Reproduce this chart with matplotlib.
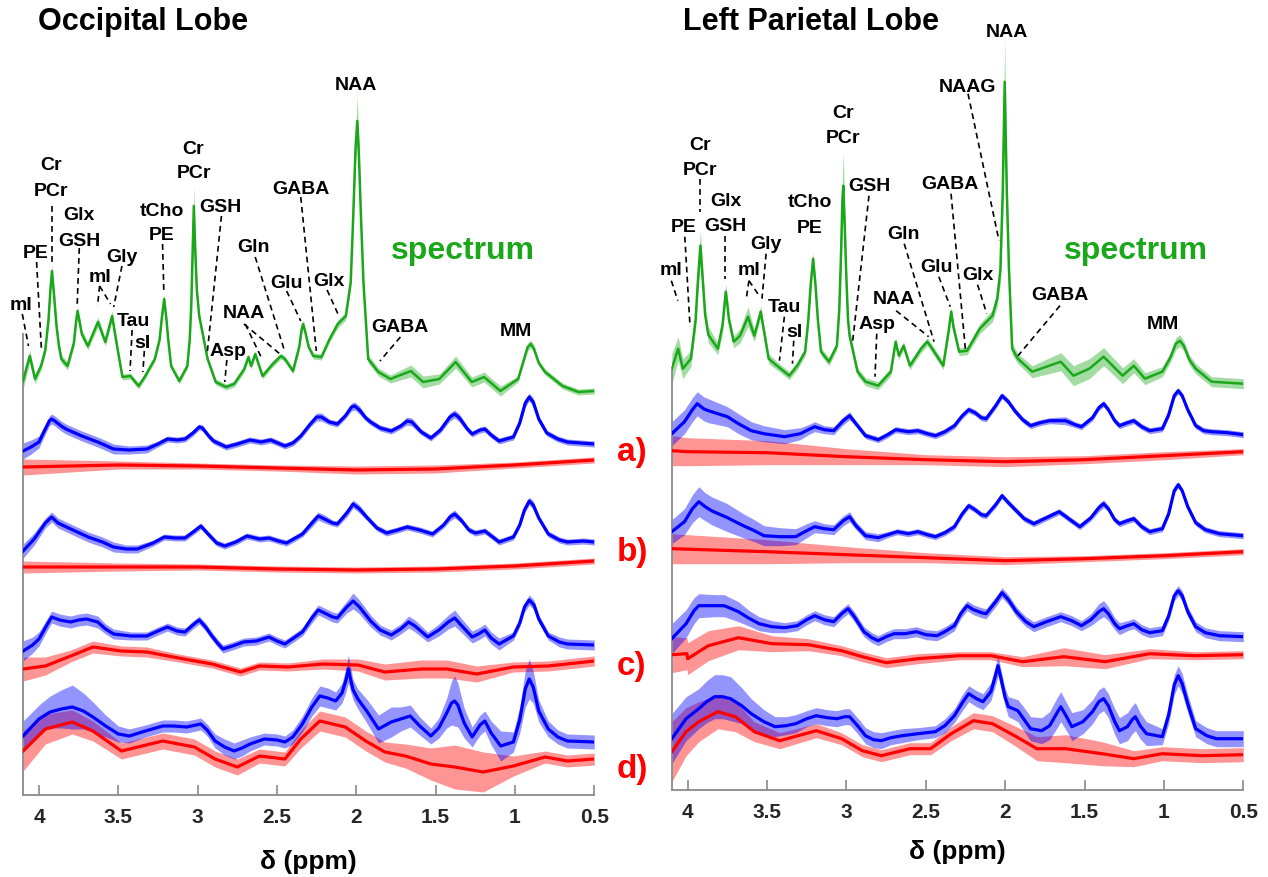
import matplotlib
matplotlib.use("Agg")
import matplotlib.pyplot as plt

plt.rcParams['font.family'] = ['Liberation Sans', 'DejaVu Sans']
plt.rcParams['font.weight'] = 'bold'

# ---------------- data: (ppm, intensity, sd) ----------------
occ_spectrum = [
    (4.10, 414, 8), (4.058, 439, 6), (4.025, 416, 5), (3.987, 429, 4), (3.96, 445, 4),
    (3.94, 475, 5), (3.928, 505, 6), (3.918, 524, 7), (3.905, 500, 6), (3.89, 470, 5),
    (3.875, 450, 4), (3.859, 436, 4), (3.82, 429, 4), (3.78, 452, 4), (3.765, 475, 5),
    (3.757, 484, 5), (3.745, 474, 5), (3.73, 461, 4), (3.692, 449, 4), (3.628, 473, 5),
    (3.582, 453, 4), (3.539, 479, 5), (3.51, 451, 4), (3.474, 418, 3), (3.424, 419, 3),
    (3.372, 409, 3), (3.334, 418, 3), (3.27, 436, 3), (3.24, 455, 3), (3.225, 478, 4),
    (3.211, 496, 5), (3.198, 478, 4), (3.185, 455, 3), (3.167, 429, 3), (3.116, 414, 3),
    (3.065, 429, 3), (3.05, 455, 4), (3.04, 490, 6), (3.032, 540, 12), (3.024, 589, 20),
    (3.015, 545, 12), (3.005, 505, 6), (2.99, 479, 4), (2.937, 436, 3), (2.886, 413, 3),
    (2.821, 408, 3), (2.77, 411, 3), (2.706, 426, 3), (2.68, 438, 3), (2.663, 429, 3),
    (2.637, 441, 3), (2.591, 419, 3), (2.527, 431, 3), (2.475, 439, 3), (2.45, 436, 3),
    (2.399, 424, 3), (2.36, 448, 4), (2.345, 465, 4), (2.335, 471, 4), (2.32, 462, 4),
    (2.30, 448, 3), (2.271, 439, 3), (2.22, 438, 3), (2.168, 456, 3), (2.117, 471, 4),
    (2.066, 479, 4), (2.035, 513, 5), (2.02, 576, 8), (2.005, 646, 15), (1.994, 674, 25),
    (1.985, 646, 15), (1.97, 576, 8), (1.955, 513, 5), (1.925, 436, 4), (1.861, 423, 4),
    (1.785, 416, 4), (1.656, 424, 6), (1.579, 413, 6), (1.477, 416, 5), (1.374, 433, 6),
    (1.272, 413, 5), (1.195, 418, 5), (1.092, 404, 5), (0.98, 416, 3), (0.95, 432, 3),
    (0.92, 448, 4), (0.90, 451, 4), (0.88, 446, 4), (0.85, 432, 3), (0.81, 423, 3),
    (0.70, 409, 3), (0.60, 403, 3), (0.50, 404, 3),
]
occ_a_model = [
    (4.10, 344, 8), (4.05, 348, 7), (4.00, 353, 6), (3.96, 366, 5), (3.935, 374, 5),
    (3.92, 376, 5), (3.90, 374, 5), (3.86, 369, 5), (3.83, 366, 5), (3.73, 359, 5),
    (3.63, 353, 5), (3.53, 346, 5), (3.43, 345, 4), (3.32, 346, 4), (3.25, 351, 3),
    (3.19, 356, 3), (3.13, 355, 3), (3.08, 356, 3), (3.03, 362, 3), (2.99, 368, 3),
    (2.97, 367, 3), (2.93, 359, 3), (2.90, 354, 3), (2.82, 348, 3), (2.75, 351, 3),
    (2.67, 355, 3), (2.60, 353, 3), (2.54, 355, 3), (2.45, 349, 3), (2.40, 352, 3),
    (2.35, 359, 3), (2.29, 371, 3), (2.25, 378, 4), (2.22, 378, 4), (2.17, 373, 3),
    (2.12, 371, 3), (2.07, 379, 3), (2.03, 388, 4), (2.01, 389, 4), (1.98, 385, 4),
    (1.94, 377, 3), (1.91, 373, 3), (1.85, 367, 3), (1.78, 364, 3), (1.72, 369, 3),
    (1.68, 374, 4), (1.65, 373, 4), (1.59, 363, 3), (1.53, 357, 3), (1.47, 365, 3),
    (1.41, 378, 4), (1.38, 381, 4), (1.35, 377, 4), (1.30, 366, 3), (1.27, 361, 3),
    (1.22, 365, 3), (1.19, 366, 3), (1.15, 360, 3), (1.10, 354, 3), (1.01, 358, 3),
    (0.97, 372, 3), (0.935, 392, 4), (0.91, 398, 4), (0.885, 393, 4), (0.85, 376, 3),
    (0.80, 362, 3), (0.73, 356, 3), (0.67, 353, 3), (0.50, 351, 3),
]
occ_a_baseline = [
    (4.10, 328, 8), (3.50, 330, 4), (3.00, 329, 3), (2.50, 327, 3), (2.00, 325, 4),
    (1.50, 326, 4), (1.00, 330, 3), (0.50, 335, 3),
]
occ_b_model = [
    (4.10, 244, 7), (4.03, 256, 6), (3.96, 272, 5), (3.92, 278, 5), (3.88, 272, 5),
    (3.80, 266, 5), (3.69, 258, 5), (3.60, 253, 5), (3.53, 248, 5), (3.45, 246, 4),
    (3.38, 246, 4), (3.28, 252, 3), (3.21, 258, 3), (3.14, 257, 3), (3.08, 257, 3),
    (3.02, 264, 3), (2.98, 269, 3), (2.94, 262, 3), (2.88, 252, 3), (2.83, 249, 3),
    (2.76, 253, 3), (2.69, 259, 3), (2.61, 256, 3), (2.55, 257, 3), (2.49, 254, 3),
    (2.44, 252, 3), (2.34, 261, 3), (2.28, 272, 4), (2.24, 279, 4), (2.20, 276, 4),
    (2.15, 272, 3), (2.12, 271, 3), (2.06, 282, 4), (2.02, 291, 4), (1.98, 286, 4),
    (1.93, 277, 3), (1.87, 267, 3), (1.81, 262, 3), (1.74, 265, 3), (1.68, 268, 3),
    (1.60, 265, 3), (1.52, 261, 3), (1.45, 270, 3), (1.41, 278, 4), (1.38, 281, 4),
    (1.34, 275, 3), (1.29, 265, 3), (1.25, 262, 3), (1.19, 264, 3), (1.14, 258, 3),
    (1.10, 253, 3), (1.01, 258, 3), (0.97, 270, 3), (0.94, 285, 3), (0.91, 294, 4),
    (0.885, 290, 4), (0.85, 277, 3), (0.79, 261, 3), (0.72, 255, 3), (0.67, 253, 3),
    (0.57, 254, 3), (0.50, 253, 3),
]
occ_b_baseline = [
    (4.10, 228, 6), (3.50, 228, 4), (3.00, 228, 3), (2.50, 226, 3), (2.00, 225, 3),
    (1.50, 226, 3), (1.00, 229, 3), (0.50, 234, 3),
]
occ_c_model = [
    (4.10, 144, 10), (4.04, 150, 8), (4.00, 156, 7), (3.95, 170, 6), (3.92, 178, 6),
    (3.87, 175, 6), (3.80, 173, 6), (3.75, 175, 6), (3.70, 176, 6), (3.63, 173, 6),
    (3.58, 166, 5), (3.53, 161, 5), (3.42, 159, 4), (3.32, 159, 4), (3.25, 164, 4),
    (3.19, 168, 4), (3.13, 164, 4), (3.08, 163, 4), (3.03, 170, 4), (2.99, 175, 4),
    (2.95, 168, 4), (2.91, 159, 4), (2.87, 151, 4), (2.84, 146, 4), (2.78, 149, 4),
    (2.71, 153, 4), (2.63, 154, 4), (2.55, 158, 4), (2.50, 154, 4), (2.45, 151, 4),
    (2.34, 163, 4), (2.28, 177, 5), (2.24, 185, 5), (2.20, 182, 5), (2.15, 178, 5),
    (2.12, 177, 5), (2.06, 188, 6), (2.02, 194, 8), (1.98, 188, 7), (1.91, 174, 6),
    (1.85, 165, 5), (1.78, 160, 5), (1.72, 166, 5), (1.67, 173, 6), (1.63, 169, 6),
    (1.55, 158, 5), (1.48, 165, 6), (1.42, 173, 7), (1.38, 177, 8), (1.34, 170, 7),
    (1.27, 158, 6), (1.23, 161, 6), (1.19, 165, 6), (1.15, 157, 6), (1.10, 151, 6),
    (1.01, 159, 4), (0.97, 172, 4), (0.94, 188, 5), (0.91, 195, 5), (0.88, 190, 5),
    (0.85, 176, 4), (0.79, 159, 4), (0.72, 153, 5), (0.67, 151, 5), (0.50, 150, 5),
]
occ_c_baseline = [
    (4.10, 126, 12), (3.96, 129, 9), (3.80, 139, 6), (3.66, 148, 6), (3.48, 144, 5),
    (3.32, 143, 5), (3.12, 137, 4), (2.91, 131, 4), (2.73, 123, 4), (2.61, 129, 4),
    (2.43, 128, 4), (2.21, 131, 5), (1.99, 130, 6), (1.82, 123, 8), (1.59, 126, 9),
    (1.43, 126, 9), (1.24, 121, 8), (1.01, 128, 5), (0.79, 129, 5), (0.50, 134, 5),
]
occ_d_model = [
    (4.10, 59, 15), (4.00, 76, 14), (3.93, 83, 16), (3.86, 86, 19), (3.79, 88, 22),
    (3.72, 84, 18), (3.66, 78, 15), (3.58, 69, 11), (3.50, 61, 8), (3.43, 59, 7),
    (3.33, 64, 6), (3.22, 69, 6), (3.15, 69, 6), (3.07, 68, 6), (2.98, 71, 6),
    (2.94, 65, 6), (2.89, 54, 7), (2.83, 48, 8), (2.77, 44, 8), (2.72, 47, 8),
    (2.67, 51, 7), (2.58, 56, 6), (2.50, 55, 6), (2.45, 53, 6), (2.40, 58, 7),
    (2.34, 71, 8), (2.28, 88, 9), (2.23, 99, 10), (2.18, 97, 10), (2.13, 94, 9),
    (2.09, 102, 10), (2.065, 115, 12), (2.05, 126, 14), (2.035, 115, 12), (2.02, 105, 10),
    (1.99, 96, 10), (1.93, 83, 12), (1.86, 66, 14), (1.78, 73, 15), (1.72, 76, 12),
    (1.66, 79, 11), (1.60, 69, 9), (1.53, 59, 8), (1.48, 67, 10), (1.43, 82, 15),
    (1.40, 92, 22), (1.38, 94, 25), (1.36, 90, 22), (1.32, 72, 15), (1.27, 58, 10),
    (1.22, 70, 10), (1.19, 74, 10), (1.15, 62, 12), (1.09, 49, 15), (1.01, 53, 10),
    (0.97, 75, 13), (0.935, 106, 18), (0.91, 116, 20), (0.885, 108, 16), (0.85, 84, 11),
    (0.79, 66, 8), (0.73, 58, 7), (0.67, 54, 7), (0.50, 53, 7),
]
occ_d_baseline = [
    (4.10, 44, 20), (3.96, 66, 15), (3.79, 73, 12), (3.66, 64, 10), (3.48, 44, 8),
    (3.22, 54, 8), (3.02, 48, 8), (2.89, 36, 8), (2.75, 28, 8), (2.61, 39, 7),
    (2.45, 36, 7), (2.35, 56, 9), (2.23, 74, 10), (2.07, 68, 10), (1.94, 54, 10),
    (1.82, 43, 10), (1.69, 39, 12), (1.53, 31, 16), (1.38, 28, 22), (1.20, 23, 20),
    (1.01, 29, 10), (0.81, 38, 6), (0.67, 34, 6), (0.50, 36, 6),
]

par_spectrum = [
    (4.10, 421, 15), (4.06, 441, 12), (4.03, 421, 10), (3.98, 431, 8), (3.95, 470, 10),
    (3.935, 510, 12), (3.92, 544, 15), (3.905, 510, 12), (3.89, 475, 9), (3.87, 455, 8),
    (3.81, 441, 6), (3.78, 465, 8), (3.768, 485, 8), (3.76, 498, 8), (3.75, 485, 7),
    (3.74, 470, 6), (3.71, 448, 6), (3.67, 454, 7), (3.62, 473, 10), (3.58, 454, 6),
    (3.54, 478, 6), (3.49, 431, 5), (3.43, 423, 4), (3.36, 414, 4), (3.31, 424, 4),
    (3.26, 438, 4), (3.24, 470, 5), (3.225, 505, 6), (3.21, 531, 6), (3.195, 505, 6),
    (3.18, 470, 5), (3.16, 438, 4), (3.11, 428, 4), (3.06, 444, 4), (3.045, 480, 6),
    (3.035, 530, 12), (3.025, 590, 28), (3.02, 604, 33), (3.012, 570, 20), (3.00, 510, 10),
    (2.99, 470, 5), (2.98, 454, 5), (2.93, 418, 4), (2.88, 408, 4), (2.80, 404, 4),
    (2.72, 418, 4), (2.69, 448, 4), (2.67, 434, 4), (2.64, 444, 4), (2.60, 424, 4),
    (2.53, 441, 4), (2.49, 448, 4), (2.46, 441, 4), (2.39, 424, 4), (2.355, 460, 5),
    (2.34, 478, 5), (2.325, 462, 5), (2.29, 438, 4), (2.24, 439, 4), (2.16, 461, 5),
    (2.08, 474, 6), (2.05, 491, 8), (2.03, 520, 12), (2.015, 600, 25), (2.003, 708, 43),
    (1.99, 600, 25), (1.976, 520, 12), (1.956, 441, 6), (1.92, 431, 5), (1.83, 418, 6),
    (1.65, 428, 9), (1.57, 414, 10), (1.47, 421, 10), (1.38, 433, 9), (1.26, 414, 8),
    (1.19, 424, 7), (1.12, 411, 6), (1.01, 418, 5), (0.96, 432, 5), (0.925, 446, 6),
    (0.90, 449, 6), (0.875, 444, 5), (0.84, 430, 5), (0.80, 421, 5), (0.70, 408, 5),
    (0.50, 406, 5),
]
par_a_model = [
    (4.10, 356, 12), (4.02, 368, 12), (3.97, 380, 12), (3.94, 386, 12), (3.90, 381, 12),
    (3.87, 379, 12), (3.81, 376, 11), (3.75, 373, 10), (3.68, 366, 10), (3.60, 359, 9),
    (3.52, 356, 8), (3.39, 353, 7), (3.29, 356, 6), (3.24, 360, 5), (3.20, 363, 5),
    (3.14, 360, 4), (3.08, 359, 4), (3.02, 369, 4), (2.98, 374, 4), (2.94, 366, 3),
    (2.88, 354, 3), (2.80, 350, 3), (2.74, 355, 3), (2.69, 360, 3), (2.61, 358, 3),
    (2.55, 359, 3), (2.49, 356, 3), (2.44, 354, 3), (2.38, 358, 3), (2.32, 364, 3),
    (2.27, 374, 3), (2.23, 380, 3), (2.19, 377, 3), (2.15, 372, 3), (2.12, 371, 3),
    (2.06, 384, 3), (2.02, 394, 3), (1.98, 388, 3), (1.94, 379, 3), (1.89, 370, 3),
    (1.84, 364, 3), (1.78, 367, 3), (1.72, 369, 3), (1.62, 369, 4), (1.56, 365, 3),
    (1.52, 363, 3), (1.45, 372, 3), (1.41, 382, 3), (1.38, 386, 3), (1.35, 380, 3),
    (1.31, 369, 3), (1.28, 364, 3), (1.23, 367, 3), (1.19, 369, 3), (1.14, 363, 3),
    (1.09, 359, 3), (1.01, 361, 3), (0.97, 375, 3), (0.935, 394, 3), (0.91, 399, 3),
    (0.885, 394, 3), (0.85, 380, 3), (0.80, 364, 3), (0.75, 359, 3), (0.70, 358, 3),
    (0.60, 357, 3), (0.50, 355, 3),
]
par_a_baseline = [
    (4.10, 339, 15), (4.00, 338, 14), (3.50, 337, 12), (3.00, 333, 8), (2.50, 330, 5),
    (2.00, 328, 5), (1.50, 330, 4), (1.00, 334, 4), (0.50, 338, 3),
]
par_b_model = [
    (4.10, 258, 12), (4.02, 268, 13), (3.97, 281, 14), (3.93, 288, 15), (3.89, 283, 14),
    (3.85, 279, 14), (3.75, 272, 14), (3.65, 264, 12), (3.58, 259, 11), (3.52, 254, 10),
    (3.42, 253, 9), (3.32, 253, 8), (3.25, 259, 7), (3.20, 263, 6), (3.14, 261, 5),
    (3.08, 260, 5), (3.02, 269, 5), (2.98, 273, 5), (2.94, 264, 4), (2.88, 254, 4),
    (2.80, 252, 4), (2.74, 255, 3), (2.68, 258, 3), (2.61, 256, 3), (2.55, 258, 3),
    (2.49, 255, 3), (2.44, 253, 3), (2.38, 257, 3), (2.32, 263, 3), (2.27, 276, 3),
    (2.23, 284, 3), (2.19, 280, 3), (2.15, 275, 3), (2.12, 274, 3), (2.06, 285, 3),
    (2.02, 294, 3), (1.98, 287, 3), (1.93, 279, 3), (1.88, 271, 3), (1.82, 266, 3),
    (1.74, 272, 3), (1.66, 278, 3), (1.60, 271, 3), (1.53, 263, 3), (1.46, 272, 3),
    (1.41, 282, 4), (1.38, 286, 4), (1.35, 281, 3), (1.31, 270, 3), (1.28, 266, 3),
    (1.23, 269, 3), (1.19, 271, 3), (1.14, 263, 3), (1.09, 258, 3), (1.01, 261, 3),
    (0.97, 276, 3), (0.935, 299, 3), (0.91, 305, 3), (0.885, 299, 3), (0.85, 283, 3),
    (0.80, 267, 3), (0.74, 260, 3), (0.65, 256, 3), (0.50, 254, 3),
]
par_b_baseline = [
    (4.10, 241, 15), (3.50, 238, 12), (3.00, 235, 8), (2.50, 232, 5), (2.00, 229, 4),
    (1.50, 231, 3), (1.00, 234, 3), (0.50, 238, 3),
]
par_c_model = [
    (4.10, 151, 15), (4.01, 166, 14), (3.96, 179, 13), (3.93, 184, 12), (3.83, 184, 11),
    (3.77, 184, 11), (3.68, 178, 10), (3.62, 172, 8), (3.55, 166, 7), (3.47, 163, 6),
    (3.39, 162, 5), (3.31, 164, 5), (3.25, 170, 5), (3.20, 174, 5), (3.14, 170, 5),
    (3.08, 168, 5), (3.03, 176, 5), (2.99, 181, 5), (2.95, 173, 5), (2.89, 158, 5),
    (2.84, 152, 5), (2.80, 149, 5), (2.75, 153, 5), (2.70, 156, 5), (2.63, 156, 5),
    (2.56, 158, 5), (2.50, 155, 5), (2.43, 154, 5), (2.38, 158, 5), (2.32, 164, 5),
    (2.28, 176, 5), (2.24, 184, 5), (2.20, 180, 5), (2.15, 177, 5), (2.12, 176, 5),
    (2.06, 188, 5), (2.02, 197, 5), (1.98, 190, 5), (1.93, 178, 5), (1.87, 168, 5),
    (1.82, 163, 5), (1.74, 168, 5), (1.65, 173, 5), (1.58, 169, 5), (1.52, 164, 5),
    (1.46, 170, 6), (1.41, 178, 8), (1.38, 181, 8), (1.35, 176, 7), (1.31, 166, 6),
    (1.28, 161, 6), (1.23, 164, 5), (1.19, 166, 5), (1.14, 160, 5), (1.09, 157, 5),
    (1.01, 159, 5), (0.97, 174, 5), (0.935, 194, 5), (0.91, 199, 5), (0.885, 194, 5),
    (0.85, 178, 5), (0.80, 163, 5), (0.74, 157, 5), (0.65, 154, 5), (0.50, 153, 5),
]
par_c_baseline = [
    (4.10, 135, 18), (4.005, 136, 16), (4.00, 131, 16), (3.87, 144, 15), (3.68, 152, 12),
    (3.47, 146, 8), (3.24, 145, 6), (3.03, 139, 5), (2.90, 133, 5), (2.75, 127, 5),
    (2.55, 131, 5), (2.29, 134, 4), (2.09, 134, 4), (1.89, 128, 5), (1.63, 133, 9),
    (1.37, 128, 7), (1.09, 136, 5), (0.81, 134, 4), (0.50, 135, 4),
]
par_d_model = [
    (4.10, 51, 25), (4.01, 71, 22), (3.93, 81, 20), (3.88, 88, 21), (3.83, 93, 22),
    (3.78, 93, 22), (3.73, 91, 22), (3.66, 84, 18), (3.60, 76, 15), (3.52, 68, 12),
    (3.45, 63, 10), (3.38, 64, 9), (3.32, 66, 9), (3.25, 71, 8), (3.19, 74, 8),
    (3.12, 72, 8), (3.06, 71, 8), (3.01, 73, 8), (2.98, 73, 8), (2.93, 64, 8),
    (2.88, 54, 8), (2.83, 50, 8), (2.78, 49, 8), (2.72, 52, 7), (2.65, 54, 7),
    (2.55, 56, 6), (2.44, 58, 6), (2.38, 64, 7), (2.32, 74, 7), (2.27, 87, 8),
    (2.23, 96, 8), (2.18, 91, 8), (2.14, 88, 8), (2.09, 98, 9), (2.065, 112, 10),
    (2.045, 124, 10), (2.025, 110, 9), (2.00, 92, 9), (1.98, 83, 10), (1.92, 79, 11),
    (1.88, 70, 12), (1.84, 61, 12), (1.77, 59, 13), (1.72, 64, 14), (1.68, 75, 15),
    (1.65, 83, 15), (1.61, 72, 14), (1.58, 63, 14), (1.51, 68, 12), (1.45, 78, 12),
    (1.41, 88, 12), (1.38, 91, 12), (1.35, 84, 12), (1.31, 68, 13), (1.28, 59, 13),
    (1.23, 63, 14), (1.20, 70, 14), (1.18, 73, 14), (1.15, 64, 13), (1.11, 56, 12),
    (1.01, 53, 8), (0.97, 75, 9), (0.935, 105, 10), (0.91, 114, 10), (0.885, 106, 10),
    (0.85, 86, 9), (0.80, 61, 8), (0.73, 54, 8), (0.67, 51, 8), (0.50, 51, 8),
]
par_d_baseline = [
    (4.10, 38, 30), (4.01, 58, 24), (3.93, 68, 20), (3.81, 78, 17), (3.70, 73, 15),
    (3.58, 58, 10), (3.42, 49, 8), (3.19, 59, 7), (3.03, 51, 6), (2.90, 39, 6),
    (2.78, 34, 6), (2.60, 41, 6), (2.47, 41, 6), (2.34, 56, 7), (2.20, 69, 8),
    (2.08, 66, 8), (1.93, 53, 10), (1.80, 41, 12), (1.62, 41, 14), (1.39, 36, 12),
    (1.19, 31, 8), (1.01, 36, 7), (0.76, 34, 7), (0.50, 35, 7),
]

# labels: (text, ppm, height)
occ_labels = [
    ("NAA", 2.002, 710), ("Cr", 3.926, 630), ("PCr", 3.926, 605), ("PE", 4.020, 543),
    ("Glx", 3.746, 580), ("GSH", 3.746, 555), ("Gly", 3.477, 538), ("mI", 3.618, 518),
    ("mI", 4.113, 490), ("Tau", 3.406, 474), ("sI", 3.345, 453), ("tCho", 3.226, 585),
    ("PE", 3.226, 560), ("Cr", 3.026, 647), ("PCr", 3.026, 623), ("GSH", 2.857, 589),
    ("Gln", 2.645, 548), ("Glu", 2.439, 513), ("GABA", 2.350, 607), ("Glx", 2.170, 514),
    ("NAA", 2.708, 482), ("Asp", 2.811, 445), ("GABA", 1.727, 468), ("MM", 0.997, 464),
]
# leader lines: (ppm_from, h_from, ppm_to, h_to)
occ_leaders = [
    (4.105, 481, 4.066, 449), (4.015, 533, 3.984, 444), (3.921, 589, 3.921, 533),
    (3.746, 547, 3.759, 491), (3.618, 509, 3.631, 489), (3.618, 509, 3.549, 491),
    (3.477, 529, 3.529, 488), (3.413, 465, 3.426, 424), (3.336, 444, 3.345, 423),
    (3.221, 551, 3.213, 503), (2.850, 579, 2.939, 443), (2.816, 435, 2.829, 413),
    (2.708, 471, 2.481, 441), (2.700, 471, 2.60, 438), (2.637, 538, 2.452, 444),
    (2.439, 504, 2.350, 474), (2.350, 598, 2.252, 444), (2.184, 505, 2.107, 478),
    (1.722, 458, 1.851, 434),
]
par_labels = [
    ("NAA", 1.987, 758), ("NAAG", 2.239, 703), ("Cr", 3.921, 645), ("PCr", 3.921, 620),
    ("PE", 4.026, 563), ("Glx", 3.762, 589), ("GSH", 3.762, 564), ("Gly", 3.506, 546),
    ("mI", 3.614, 520), ("mI", 4.103, 520), ("Tau", 3.391, 483), ("sI", 3.327, 458),
    ("tCho", 3.230, 588), ("PE", 3.230, 562), ("Cr", 3.020, 677), ("PCr", 3.020, 652),
    ("GSH", 2.858, 604), ("Gln", 2.643, 556), ("Glu", 2.431, 523), ("GABA", 2.348, 606),
    ("Glx", 2.174, 515), ("NAA", 2.699, 491), ("Asp", 2.809, 466), ("GABA", 1.655, 495),
    ("MM", 1.004, 466),
]
par_leaders = [
    (2.234, 696, 2.039, 549), (4.103, 509, 4.062, 489), (4.018, 553, 3.985, 463),
    (3.921, 611, 3.921, 578), (3.762, 554, 3.762, 511), (3.614, 509, 3.629, 493),
    (3.614, 509, 3.545, 493), (3.506, 536, 3.532, 491), (3.391, 473, 3.422, 429),
    (3.332, 449, 3.340, 426), (2.858, 594, 2.961, 448), (2.809, 456, 2.820, 413),
    (2.687, 479, 2.482, 453), (2.636, 546, 2.448, 448), (2.418, 513, 2.346, 483),
    (2.341, 596, 2.251, 441), (2.174, 505, 2.116, 476), (1.655, 484, 1.919, 434),
]

x_ticks = [4, 3.5, 3, 2.5, 2, 1.5, 1, 0.5]
x_ticklabels = ["4", "3.5", "3", "2.5", "2", "1.5", "1", "0.5"]
row_labels = ["a)", "b)", "c)", "d)"]
panel_titles = ["Occipital Lobe", "Left Parietal Lobe"]

# ---------------- styling ----------------
W, H = 1268, 878
GREEN = (0.1, 0.66, 0.1)
BLUE = (0.0, 0.0, 1.0)
RED = (1.0, 0.0, 0.0)
AX_GRAY = '#8a8a8a'
TXT_GRAY = '#262626'

fig = plt.figure(figsize=(W / 100, H / 100), dpi=100)


def add_px_axes(x0, x1, ybot):
    return fig.add_axes([x0 / W, (H - ybot) / H, (x1 - x0) / W, ybot / H])


def draw_trace(ax, data, color, lw, alpha):
    ppm = [d[0] for d in data]
    val = [d[1] for d in data]
    sd = [d[2] for d in data]
    lo = [v - s for v, s in zip(val, sd)]
    hi = [v + s for v, s in zip(val, sd)]
    ax.fill_between(ppm, lo, hi, color=color, alpha=alpha, lw=0, zorder=1)
    ax.plot(ppm, val, color=color, lw=lw, zorder=3, solid_joinstyle='round')


def setup_axes(ax, ytop, spine_top):
    ax.set_xlim(4.1, 0.5)
    ax.set_ylim(0, ytop)
    for s in ['top', 'right']:
        ax.spines[s].set_visible(False)
    ax.spines['left'].set_bounds(0, spine_top)
    for s in ['left', 'bottom']:
        ax.spines[s].set_color(AX_GRAY)
        ax.spines[s].set_linewidth(1.3)
    ax.set_yticks([])
    ax.set_xticks(x_ticks)
    ax.set_xticklabels(x_ticklabels, fontsize=15, fontweight='bold', color=TXT_GRAY)
    ax.tick_params(axis='x', direction='in', length=7, width=1.2, color=AX_GRAY, pad=9)
    ax.patch.set_alpha(0)


panels = [
    dict(x0=23.1, x1=594.3, ybot=796, spine_top=461, title_x=38, xlabel_y=862,
         spec=occ_spectrum, pairs=[(occ_a_model, occ_a_baseline), (occ_b_model, occ_b_baseline),
                                    (occ_c_model, occ_c_baseline), (occ_d_model, occ_d_baseline)],
         labels=occ_labels, leaders=occ_leaders, spec_label=(1.325, 545)),
    dict(x0=671.8, x1=1243.3, ybot=790.7, spine_top=423, title_x=683, xlabel_y=852,
         spec=par_spectrum, pairs=[(par_a_model, par_a_baseline), (par_b_model, par_b_baseline),
                                    (par_c_model, par_c_baseline), (par_d_model, par_d_baseline)],
         labels=par_labels, leaders=par_leaders, spec_label=(1.176, 540)),
]

for i, p in enumerate(panels):
    ax = add_px_axes(p['x0'], p['x1'], p['ybot'])
    setup_axes(ax, p['ybot'], p['spine_top'])
    draw_trace(ax, p['spec'], GREEN, 1.8, 0.4)
    for model, base in p['pairs']:
        draw_trace(ax, base, RED, 2.3, 0.42)
        draw_trace(ax, model, BLUE, 2.3, 0.42)
    for (x1, y1, x2, y2) in p['leaders']:
        ax.plot([x1, x2], [y1, y2], color='black', lw=1.2, ls=(0, (3.5, 2.5)), zorder=4,
                clip_on=False)
    for (t, x, y) in p['labels']:
        ax.text(x, y, t, fontsize=14, fontweight='bold', ha='center', va='center',
                color='black', zorder=5, clip_on=False)
    sx, sy = p['spec_label']
    ax.text(sx, sy, "spectrum", fontsize=23, fontweight='bold', color=GREEN,
            ha='center', va='center', zorder=5)
    fig.text(p['title_x'] / W, 1 - 22 / H, panel_titles[i], fontsize=22, fontweight='bold',
             ha='left', va='center', color='black')
    fig.text((p['x0'] + p['x1']) / 2 / W, 1 - p['xlabel_y'] / H, "δ (ppm)", fontsize=19,
             fontweight='bold', ha='center', va='center', color='black')

row_y = [452, 553, 667, 770]
for lab, yy in zip(row_labels, row_y):
    fig.text(632 / W, 1 - yy / H, lab, fontsize=24, fontweight='bold', color=RED,
             ha='center', va='center')

fig.savefig("out.png", dpi=100, facecolor='white')
